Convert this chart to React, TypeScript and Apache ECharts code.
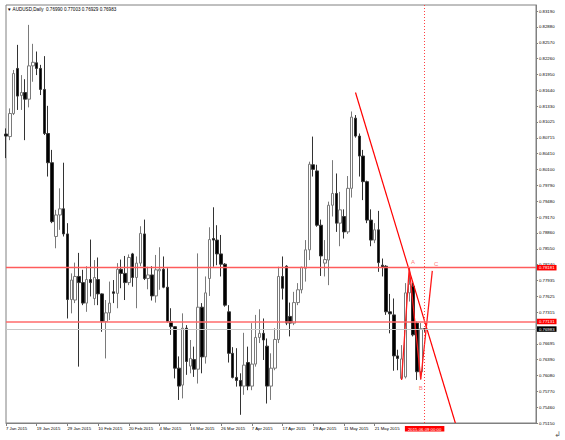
import React, { useEffect, useRef } from "react";
import * as echarts from "echarts";

// ---- data ----
const opens = [
  0.8079, 0.8074, 0.8119, 0.8207, 0.8154, 0.8160, 0.8147, 0.8212, 0.8218, 0.8207,
  0.8166, 0.8080, 0.8023, 0.7879, 0.7921, 0.7933, 0.7884, 0.7756, 0.7755, 0.7801,
  0.7789, 0.7749, 0.7795, 0.7758, 0.7795, 0.7767, 0.7713, 0.7730, 0.7771, 0.7768,
  0.7815, 0.7807, 0.7789, 0.7845, 0.7799, 0.7827, 0.7884, 0.7797, 0.7804, 0.7763,
  0.7812, 0.7815, 0.7780, 0.7713, 0.7703, 0.7622, 0.7589, 0.7700, 0.7626, 0.7639,
  0.7620, 0.7741, 0.7644, 0.7797, 0.7875, 0.7872, 0.7845, 0.7825, 0.7732, 0.7651,
  0.7604, 0.7598, 0.7587, 0.7633, 0.7587, 0.7630, 0.7682, 0.7690, 0.7665, 0.7587,
  0.7622, 0.7678, 0.7801, 0.7821, 0.7723, 0.7710, 0.7750, 0.7775, 0.7817, 0.7853,
  0.8019, 0.8007, 0.7901, 0.7827, 0.7833, 0.7940, 0.7963, 0.7905, 0.7918, 0.7888,
  0.7973, 0.8110, 0.8075, 0.8036, 0.7986, 0.7911, 0.7872, 0.7892, 0.7823, 0.7821,
  0.7732, 0.7726, 0.7646, 0.7602, 0.7605, 0.7769, 0.7782, 0.7710, 0.7615, 0.76990,
];
const closes = [
  0.8075, 0.8119, 0.8197, 0.8153, 0.8160, 0.8147, 0.8212, 0.8219, 0.8207, 0.8166,
  0.8080, 0.8023, 0.7908, 0.7921, 0.7933, 0.7884, 0.7756, 0.7794, 0.7801, 0.7789,
  0.7749, 0.7795, 0.7789, 0.7799, 0.7767, 0.7713, 0.7730, 0.7749, 0.7768, 0.7815,
  0.7807, 0.7789, 0.7838, 0.7799, 0.7827, 0.7885, 0.7797, 0.7804, 0.7763, 0.7814,
  0.7815, 0.7780, 0.7713, 0.7703, 0.7622, 0.7587, 0.7700, 0.7635, 0.7641, 0.7620,
  0.7741, 0.7644, 0.7769, 0.7873, 0.7872, 0.7845, 0.7825, 0.7745, 0.7651, 0.7604,
  0.7598, 0.7587, 0.7628, 0.7587, 0.7630, 0.7682, 0.7690, 0.7677, 0.7587, 0.7622,
  0.7678, 0.7801, 0.7778, 0.7710, 0.7710, 0.7750, 0.7775, 0.7819, 0.7853, 0.8020,
  0.8010, 0.7901, 0.7841, 0.7834, 0.7940, 0.7963, 0.7905, 0.7931, 0.7888, 0.7973,
  0.8112, 0.8075, 0.8036, 0.7986, 0.7911, 0.7872, 0.7892, 0.7828, 0.7819, 0.7732,
  0.7728, 0.7646, 0.7641, 0.7640, 0.7769, 0.7786, 0.7687, 0.7615, 0.7699, 0.76983,
];
const highs = [
  0.8090, 0.8129, 0.8204, 0.8253, 0.8194, 0.8186, 0.8292, 0.8255, 0.8240, 0.8214,
  0.8231, 0.8134, 0.8048, 0.7931, 0.7973, 0.8023, 0.7905, 0.7807, 0.7828, 0.7847,
  0.7814, 0.7821, 0.7873, 0.7833, 0.7838, 0.7768, 0.7755, 0.7791, 0.7794, 0.7827,
  0.7834, 0.7841, 0.7844, 0.7847, 0.7840, 0.7899, 0.7912, 0.7820, 0.7821, 0.7843,
  0.7858, 0.7840, 0.7817, 0.7739, 0.7704, 0.7645, 0.7729, 0.7706, 0.7677, 0.7664,
  0.7846, 0.7749, 0.7801, 0.7897, 0.7936, 0.7901, 0.7882, 0.7827, 0.7745, 0.7663,
  0.7661, 0.7612, 0.7691, 0.7664, 0.7710, 0.7726, 0.7737, 0.7719, 0.7680, 0.7651,
  0.7700, 0.7820, 0.7840, 0.7823, 0.7750, 0.7771, 0.7788, 0.7820, 0.7872, 0.8025,
  0.8074, 0.8019, 0.7912, 0.7872, 0.7947, 0.8028, 0.8002, 0.7966, 0.7932, 0.7997,
  0.8123, 0.8116, 0.8080, 0.8048, 0.7988, 0.7932, 0.7905, 0.7929, 0.7836, 0.7823,
  0.7767, 0.7758, 0.7658, 0.7667, 0.7788, 0.78181, 0.7789, 0.7713, 0.7710, 0.77003,
];
const lows = [
  0.8032, 0.8067, 0.8116, 0.8126, 0.8126, 0.8067, 0.8131, 0.8181, 0.8194, 0.8155,
  0.8077, 0.7996, 0.7905, 0.7856, 0.7892, 0.7879, 0.7719, 0.7729, 0.7749, 0.7625,
  0.7745, 0.7732, 0.7762, 0.7745, 0.7745, 0.7693, 0.7641, 0.7716, 0.7749, 0.7739,
  0.7778, 0.7755, 0.7784, 0.7781, 0.7739, 0.7821, 0.7794, 0.7776, 0.7754, 0.7750,
  0.7775, 0.7778, 0.7711, 0.7687, 0.7602, 0.7560, 0.7563, 0.7609, 0.7612, 0.7605,
  0.7592, 0.7612, 0.7631, 0.7763, 0.7820, 0.7823, 0.7801, 0.7742, 0.7633, 0.7602,
  0.7586, 0.7531, 0.7570, 0.7579, 0.7579, 0.7625, 0.7671, 0.7638, 0.7553, 0.7560,
  0.7618, 0.7671, 0.7756, 0.7706, 0.7684, 0.7706, 0.7745, 0.7768, 0.7791, 0.7833,
  0.7996, 0.7898, 0.7802, 0.7801, 0.7784, 0.7918, 0.7888, 0.7860, 0.7875, 0.7884,
  0.7955, 0.8072, 0.7996, 0.7950, 0.7905, 0.7860, 0.7866, 0.7810, 0.7801, 0.7726,
  0.7690, 0.7617, 0.7618, 0.7599, 0.7602, 0.7752, 0.7684, 0.7599, 0.7600, 0.76929,
];
const yTickLabels = [
  0.8319, 0.8288, 0.8257, 0.8226, 0.8195, 0.8164, 0.8133, 0.81025, 0.80715, 0.8041,
  0.801, 0.7979, 0.7948, 0.7917, 0.7886, 0.7855, 0.7824, 0.77935, 0.77625, 0.77315,
  0.76695, 0.7639, 0.7608, 0.7577, 0.7546, 0.7515,
];
const firstBarDate = "2015-01-07";
const slotCount = 139; // bars plus empty future slots on the time axis
const labelEvery = 8;
const lastLabelledBar = 96;
const levelA = 0.78181;
const levelCross = 0.77131;
const bidPrice = 0.76983;
const markerBar = 109;
const markerText = "2015.06.09 00:00";
const trendLine = [
  [91, 0.816],
  [117, 0.7515],
];
const abcWave = [
  [103, 0.7599],
  [105, 0.78181],
  [108, 0.76],
  [111, 0.7812],
];
const waveLetters = [
  { name: "A", at: [105.8, 0.783] },
  { name: "B", at: [108.2, 0.7584] },
  { name: "C", at: [112.4, 0.7825] },
];
const titleText = "\u25BC AUDUSD,Daily  0.76990 0.77003 0.76929 0.76983";
const yMin = 0.7515;
const yMax = 0.83308;

const MONTHS = ["Jan", "Feb", "Mar", "Apr", "May", "Jun", "Jul", "Aug", "Sep", "Oct", "Nov", "Dec"];

function weekdayDates(start: string, n: number): string[] {
  const out: string[] = [];
  const d = new Date(start + "T00:00:00Z");
  while (out.length < n) {
    const wd = d.getUTCDay();
    if (wd !== 0 && wd !== 6) {
      out.push(`${d.getUTCDate()} ${MONTHS[d.getUTCMonth()]} ${d.getUTCFullYear()}`);
    }
    d.setUTCDate(d.getUTCDate() + 1);
  }
  return out;
}

const FONT = "'Liberation Sans', Arial, sans-serif";

export default function App() {
  const ref = useRef<HTMLDivElement>(null);
  useEffect(() => {
    if (!ref.current) return;
    const chart = echarts.init(ref.current, undefined, { renderer: "svg" });
    const dates = weekdayDates(firstBarDate, slotCount);
    const candles = opens.map((o, i) => [o, closes[i], lows[i], highs[i]]);
    const showIdx = (index: number) => index % labelEvery === 0 && index <= lastLabelledBar;

    const axisBoxLabel = (text: string, bg: string) => ({
      show: true,
      position: "end" as const,
      formatter: text,
      backgroundColor: bg,
      color: "#ffffff",
      fontSize: 4.3,
      fontFamily: FONT,
      padding: [1, 2, 0.5, 2],
      distance: 1,
    });

    chart.setOption({
      animation: false,
      backgroundColor: "#ffffff",
      title: {
        text: titleText,
        left: 7,
        top: 6.5,
        padding: 0,
        textStyle: { fontSize: 4.6, fontWeight: "normal", color: "#000", fontFamily: FONT },
      },
      grid: {
        left: 6,
        right: 29,
        top: 5,
        bottom: 17,
        show: true,
        borderColor: "#808080",
        borderWidth: 1,
        backgroundColor: "#ffffff",
      },
      xAxis: {
        type: "category",
        data: dates,
        boundaryGap: false,
        axisLine: { lineStyle: { color: "#808080", width: 1 } },
        axisTick: { show: true, interval: (i: number) => showIdx(i), length: 3, lineStyle: { color: "#808080" } },
        axisLabel: {
          interval: (i: number) => showIdx(i),
          align: "left",
          fontSize: 4.3,
          fontFamily: FONT,
          color: "#000",
          margin: 3,
          hideOverlap: false,
        },
        splitLine: { show: false },
      },
      yAxis: {
        type: "value",
        position: "right",
        min: yMin,
        max: yMax,
        axisLine: { show: true, lineStyle: { color: "#808080", width: 1 } },
        axisTick: { show: true, customValues: yTickLabels, length: 2, lineStyle: { color: "#808080" } },
        axisLabel: {
          customValues: yTickLabels,
          formatter: (v: number) => v.toFixed(5),
          fontSize: 4.3,
          fontFamily: FONT,
          color: "#000",
          margin: 3,
          showMinLabel: true,
          showMaxLabel: true,
        },
        splitLine: { show: false },
      },
      series: [
        {
          type: "candlestick",
          data: candles,
          barWidth: 3,
          itemStyle: {
            color: "#ffffff",
            color0: "#000000",
            borderColor: "#7a7a7a",
            borderColor0: "#333333",
            borderWidth: 1,
          },
          markLine: {
            silent: true,
            symbol: ["none", "none"],
            precision: 5,
            animation: false,
            data: [
              {
                yAxis: bidPrice,
                lineStyle: { color: "#c8c8c8", width: 1, type: "solid" },
                label: axisBoxLabel(bidPrice.toFixed(5), "#000000"),
              },
              {
                yAxis: levelA,
                lineStyle: { color: "#ff5c5c", width: 1.3, type: "solid" },
                label: axisBoxLabel(levelA.toFixed(5), "#ff0000"),
              },
              {
                yAxis: levelCross,
                lineStyle: { color: "#ff6b6b", width: 1.5, type: "solid" },
                label: axisBoxLabel(levelCross.toFixed(5), "#ff0000"),
              },
              {
                xAxis: markerBar,
                lineStyle: { color: "#ff4040", width: 1, type: [1, 2] },
                label: {
                  show: true,
                  position: "start",
                  formatter: markerText,
                  backgroundColor: "#ff0000",
                  color: "#ffffff",
                  fontSize: 4.3,
                  fontFamily: FONT,
                  padding: [1, 3, 0.5, 3],
                  distance: 3,
                },
              },
            ],
          },
          z: 2,
        },
        {
          type: "line",
          data: trendLine,
          showSymbol: false,
          lineStyle: { color: "#ff0000", width: 1.2 },
          z: 4,
          silent: true,
        },
        {
          type: "line",
          data: abcWave,
          showSymbol: false,
          lineStyle: { color: "#ff1a1a", width: 1.3 },
          z: 4,
          silent: true,
        },
        {
          type: "scatter",
          data: waveLetters.map((l) => ({ value: l.at, label: { formatter: l.name } })),
          symbolSize: 1,
          itemStyle: { color: "rgba(0,0,0,0)" },
          label: { show: true, position: "inside", color: "#ff5050", fontSize: 6, fontFamily: FONT },
          z: 5,
          silent: true,
        },
      ],
      graphic: [
        {
          type: "text",
          right: 4,
          bottom: 2,
          style: { text: "\u21B2", fontSize: 8, fill: "#666", fontFamily: "DejaVu Sans" },
        },
      ],
    });
    return () => chart.dispose();
  }, []);
  return (
    <div
      ref={ref}
      style={{ position: "fixed", left: 0, top: 0, width: 565, height: 440, background: "#fff" }}
    />
  );
}
